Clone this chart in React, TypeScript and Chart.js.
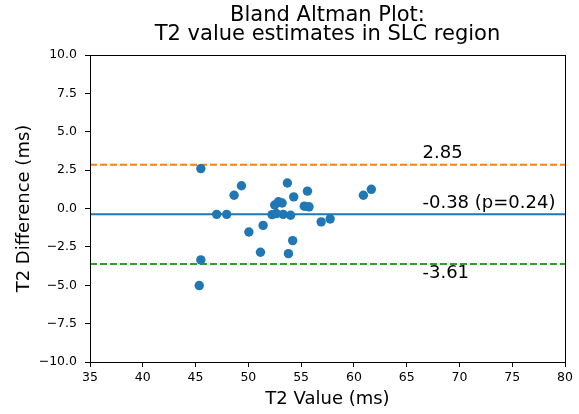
import React, { useEffect, useRef } from 'react';
import { Chart, registerables } from 'chart.js';

Chart.register(...registerables);

// ---- data ----
const t2Value = [
  45.5, 45.5, 45.35, 47.0, 47.95, 48.65, 49.35, 50.05, 51.4, 51.15,
  52.25, 52.5, 52.85, 53.2, 52.65, 53.3, 53.7, 54.0, 54.3, 54.2,
  53.8, 55.6, 55.3, 55.75, 56.9, 57.75, 60.9, 61.65,
];
const t2Diff = [
  2.6, -3.35, -5.02, -0.38, -0.38, 0.86, 1.48, -1.53, -1.1, -2.85,
  -0.4, 0.23, 0.44, 0.36, -0.33, -0.38, 1.66, -0.44, 0.76, -2.09,
  -2.94, 1.13, 0.15, 0.11, -0.87, -0.68, 0.86, 1.25,
];
const meanDiff = -0.38;
const upperLoA = 2.85;
const lowerLoA = -3.61;
const pValue = 0.24;

const xMin = 35;
const xMax = 80;
const xStep = 5;
const yMin = -10;
const yMax = 10;
const yStep = 2.5;

const titleLines = ['Bland Altman Plot:', 'T2 value estimates in SLC region'];
const xLabel = 'T2 Value (ms)';
const yLabel = 'T2 Difference (ms)';
const annotX = 66.5;

const FONT = '"DejaVu Sans", sans-serif';
const BLUE = '#1f77b4';
const ORANGE = '#ff7f0e';
const GREEN = '#2ca02c';

const align = (p: number) => Math.round(p - 0.5) + 0.5;

const decorPlugin = {
  id: 'decor',
  afterDraw(chart: any) {
    const { ctx, chartArea, scales } = chart;
    const xs = scales.x;
    const ys = scales.y;
    ctx.save();
    // box
    ctx.strokeStyle = '#000';
    ctx.lineWidth = 1;
    const l = align(chartArea.left);
    const t = align(chartArea.top);
    const r = align(chartArea.right);
    const b = align(chartArea.bottom);
    ctx.strokeRect(l, t, r - l, b - t);
    const cx = (chartArea.left + chartArea.right) / 2;
    const cy = (chartArea.top + chartArea.bottom) / 2;
    ctx.fillStyle = '#000';
    // title
    ctx.font = `21px ${FONT}`;
    ctx.textAlign = 'center';
    ctx.textBaseline = 'alphabetic';
    ctx.fillText(titleLines[0], cx, 21);
    ctx.fillText(titleLines[1], cx, 39.5);
    // axis labels
    ctx.font = `18px ${FONT}`;
    ctx.fillText(xLabel, cx, 404);
    ctx.save();
    ctx.translate(29, cy);
    ctx.rotate(-Math.PI / 2);
    ctx.fillText(yLabel, 0, 0);
    ctx.restore();
    // annotations
    ctx.textAlign = 'left';
    const ax = xs.getPixelForValue(annotX);
    ctx.fillText(upperLoA.toFixed(2), ax, ys.getPixelForValue(upperLoA) - 6.4);
    ctx.fillText(
      `${meanDiff.toFixed(2)} (p=${pValue.toFixed(2)})`,
      ax,
      ys.getPixelForValue(meanDiff) - 6
    );
    ctx.fillText(lowerLoA.toFixed(2), ax, ys.getPixelForValue(lowerLoA) + 14.3);
    ctx.restore();
  },
};

export default function App() {
  const ref = useRef<HTMLCanvasElement | null>(null);
  useEffect(() => {
    if (!ref.current) return;
    const hLine = (v: number) => [
      { x: xMin, y: v },
      { x: xMax, y: v },
    ];
    const chart = new Chart(ref.current, {
      type: 'scatter',
      data: {
        datasets: [
          {
            label: 'diff',
            data: t2Value.map((x, i) => ({ x, y: t2Diff[i] })),
            backgroundColor: BLUE,
            borderWidth: 0,
            pointRadius: 4.7,
            order: 0,
          },
          {
            label: 'mean',
            data: hLine(meanDiff),
            showLine: true,
            borderColor: BLUE,
            borderWidth: 2,
            pointRadius: 0,
            order: 1,
          },
          {
            label: 'upper',
            data: hLine(upperLoA),
            showLine: true,
            borderColor: ORANGE,
            borderWidth: 2,
            borderDash: [7, 3],
            pointRadius: 0,
            order: 1,
          },
          {
            label: 'lower',
            data: hLine(lowerLoA),
            showLine: true,
            borderColor: GREEN,
            borderWidth: 2,
            borderDash: [7, 3],
            pointRadius: 0,
            order: 1,
          },
        ] as any,
      },
      options: {
        animation: false,
        responsive: false,
        devicePixelRatio: 1,
        layout: { padding: { top: 55, right: 14, bottom: 0, left: 0 } },
        plugins: {
          legend: { display: false },
          title: { display: false },
          tooltip: { enabled: false },
        },
        scales: {
          x: {
            type: 'linear',
            min: xMin,
            max: xMax,
            afterFit: (s: any) => {
              s.height = 52;
            },
            ticks: {
              stepSize: xStep,
              color: '#000',
              font: { family: FONT, size: 12.5 },
              padding: 3,
              maxRotation: 0,
              callback: (v: any) => String(v),
            },
            grid: {
              drawOnChartArea: false,
              drawTicks: true,
              tickLength: 5,
              color: '#000',
            },
            border: { display: true, color: '#000', width: 1 },
          },
          y: {
            type: 'linear',
            min: yMin,
            max: yMax,
            afterFit: (s: any) => {
              s.width = 90;
            },
            ticks: {
              stepSize: yStep,
              color: '#000',
              font: { family: FONT, size: 12.5 },
              padding: 8,
              callback: (v: any) =>
                (Number(v) < 0 ? '\u2212' : '') + Math.abs(Number(v)).toFixed(1),
            },
            grid: {
              drawOnChartArea: false,
              drawTicks: true,
              tickLength: 5,
              color: '#000',
            },
            border: { display: true, color: '#000', width: 1 },
          },
        },
      } as any,
      plugins: [decorPlugin],
    });
    return () => chart.destroy();
  }, []);
  return (
    <div style={{ position: 'fixed', left: 0, top: 0, width: 579, height: 414, background: '#fff' }}>
      <canvas ref={ref} width={579} height={414} />
    </div>
  );
}
